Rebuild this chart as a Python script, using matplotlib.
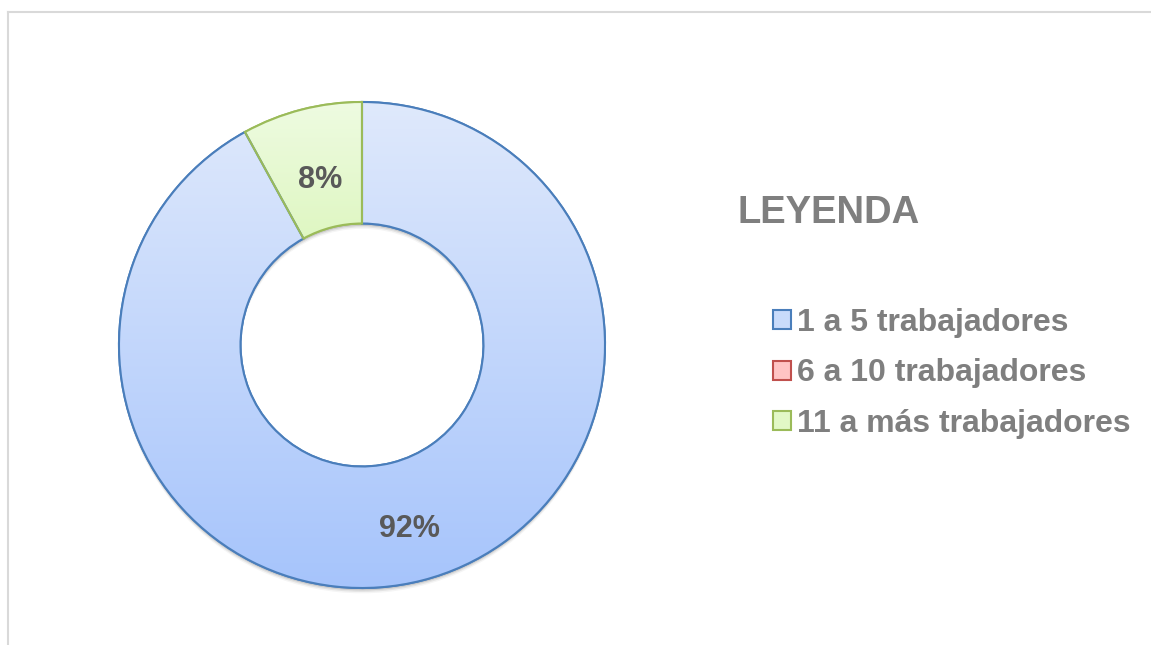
import matplotlib.pyplot as plt
import numpy as np
from matplotlib.colors import LinearSegmentedColormap
from matplotlib.lines import Line2D
from matplotlib.patches import Patch, Wedge

plt.rcParams["font.family"] = ["Liberation Sans", "DejaVu Sans"]

# data
categorias = ["1 a 5 trabajadores", "6 a 10 trabajadores", "11 a más trabajadores"]
porcentajes = [92, 0, 8]

# style
grad_top = ["#dfe9fc", "#ffd9d9", "#eefbe1"]
grad_bottom = ["#a6c4fb", "#ffaaaa", "#d3f4aa"]
bordes = ["#4a7ebb", "#c0504d", "#9bbb59"]
legend_fill = ["#c9dbfb", "#ffc4c4", "#e2f8c6"]
label_dist = [0.78, 0.75, 0.70]

fig = plt.figure(figsize=(11.51, 6.45), dpi=100)
lim = 1.1
size_px = 486 * lim
ax = fig.add_axes([(362 - size_px / 2) / 1151, (300 - size_px / 2) / 645,
                   size_px / 1151, size_px / 645])

wedges, _, autotexts = ax.pie(
    porcentajes, startangle=90, counterclock=False, radius=1,
    colors=grad_bottom, wedgeprops=dict(width=0.5, linewidth=1.5),
    autopct=lambda p: f"{p:.0f}%" if p > 0 else "", pctdistance=0.75,
    textprops=dict(fontsize=22, fontweight="bold", color="#595959"))

# soft shadow under the ring
for k, a in zip([0.010, 0.016, 0.022], [0.10, 0.07, 0.04]):
    ax.add_patch(Wedge((0, -k), 1.0, 0, 360, width=0.5, facecolor="black",
                       edgecolor="none", alpha=a, zorder=0))

for w, val, top, bot, ec in zip(wedges, porcentajes, grad_top, grad_bottom, bordes):
    if val == 0:
        w.set_visible(False)
        continue
    w.set_edgecolor(ec)
    w.set_zorder(1)
    # vertical gradient over the wedge's extent
    ys = w.get_path().vertices[:, 1]
    y0, y1 = ys.min(), ys.max()
    cmap = LinearSegmentedColormap.from_list("g", [bot, top])
    grad = np.linspace(0, 1, 256).reshape(-1, 1)
    im = ax.imshow(grad, cmap=cmap, origin="lower", aspect="auto",
                   extent=(-1, 1, y0, y1), zorder=2, interpolation="bilinear")
    im.set_clip_path(w)
    ax.add_patch(Wedge(w.center, w.r, w.theta1, w.theta2, width=w.width,
                       facecolor="none", edgecolor=ec, linewidth=1.5, zorder=3))

for w, t, d in zip(wedges, autotexts, label_dist):
    ang = np.deg2rad((w.theta1 + w.theta2) / 2)
    t.set_position((d * np.cos(ang), d * np.sin(ang)))
    t.set_zorder(4)

ax.set_xlim(-lim, lim)
ax.set_ylim(-lim, lim)
ax.set_aspect("equal")
ax.axis("off")

# legend
fig.text(738 / 1151, 1 - 223 / 645, "LEYENDA", fontsize=27.5, fontweight="bold",
         color="#7f7f7f", ha="left", va="baseline")
handles = [Patch(facecolor=f, edgecolor=e, linewidth=1.5)
           for f, e in zip(legend_fill, bordes)]
fig.legend(handles, categorias, loc="upper left",
           bbox_to_anchor=(773 / 1151, 1 - 308 / 645), frameon=False,
           prop=dict(size=23, weight="bold"), labelcolor="#7f7f7f",
           handlelength=0.55, handleheight=0.55, handletextpad=0.2,
           labelspacing=0.64, borderpad=0, borderaxespad=0)

# chart frame (partly outside the picture)
fig.add_artist(Line2D([8 / 1151, 8 / 1151], [0, 1 - 12 / 645], color="#d9d9d9",
                      linewidth=1.5, transform=fig.transFigure))
fig.add_artist(Line2D([8 / 1151, 1], [1 - 12 / 645, 1 - 12 / 645], color="#d9d9d9",
                      linewidth=1.5, transform=fig.transFigure))

fig.savefig("out.png", dpi=100, facecolor="white")
